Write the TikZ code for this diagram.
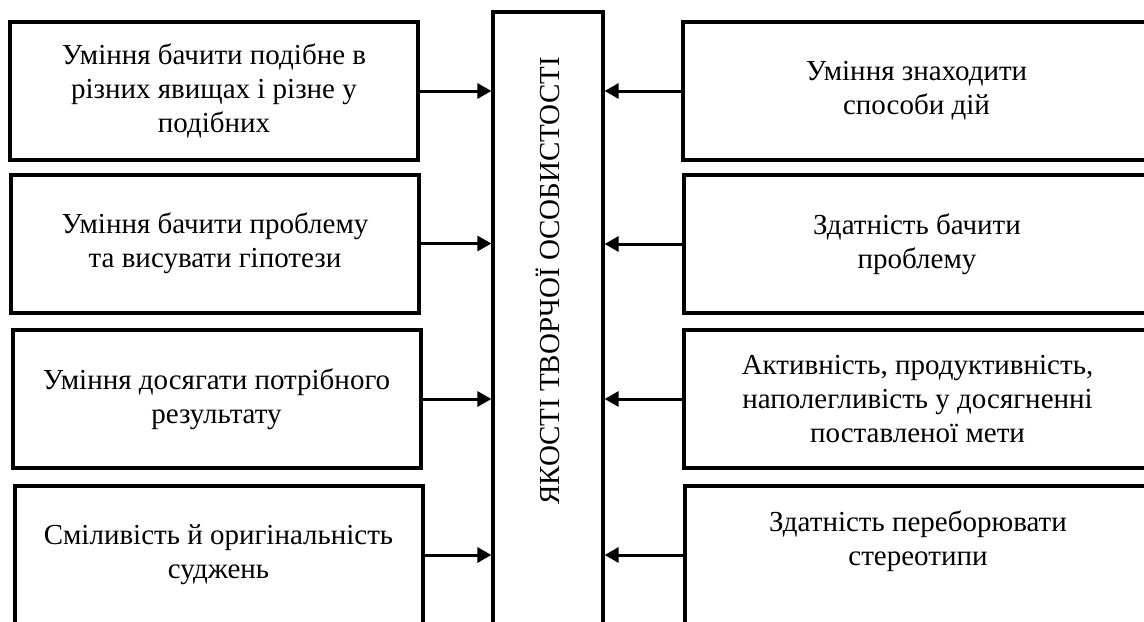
\documentclass[tikz,border=0pt]{standalone}
\usepackage{fontspec}
\setmainfont{Liberation Serif}
\usetikzlibrary{arrows.meta}
\tikzset{
	hop/.style={draw, line width=2pt, minimum width=204pt, minimum height=69pt, align=center, inner sep=0pt},
	hopphai/.style={hop, minimum width=233.5pt},
	mui/.style={-{Triangle[length=7pt,width=7.5pt]}, line width=1.5pt}
}
\begin{document}
\begin{tikzpicture}[x=0.5pt, y=-0.5pt, font=\fontsize{14.5}{17}\selectfont, line join=miter]
	\useasboundingbox (0,0) rectangle (1144,621);
	\clip (0,0) rectangle (1144,621);
	%Cột giữa
	\node[draw, line width=1.6pt, minimum width=55pt, minimum height=314pt, inner sep=0pt] (c) at (548,326) {};
	\node[rotate=90] (tc) at (548,281) {ЯКОСТІ ТВОРЧОЇ ОСОБИСТОСТІ};
	%Bên trái
	\node[hop] (l1) at (214,91) {Уміння бачити подібне в\\ різних явищах і різне у\\ подібних};
	\node[hop] (l2) at (215,243.5) {Уміння бачити проблему\\ та висувати гіпотези};
	\node[hop] (l3) at (216.5,399) {Уміння досягати потрібного\\ результату};
	\node[hop] (l4) at (218.5,555) {Сміливість й оригінальність\\ суджень};
	%Bên phải
	\node[hopphai] (r1) at (916.5,91) {Уміння знаходити\\ способи дій};
	\node[hopphai] (r2) at (917,244) {Здатність бачити\\ проблему};
	\node[hopphai] (r3) at (917.5,399) {Активність, продуктивність,\\ наполегливість у досягненні\\ поставленої мети};
	\node[hopphai] (r4) at (918,555) {Здатність переборювати\\ стереотипи\\ \mbox{}};
	\foreach \i in {1,...,4}{
		\draw[mui] (l\i.east) -- (l\i.east -| c.west);
		\draw[mui] (r\i.west) -- (r\i.west -| c.east);
	}
\end{tikzpicture}
\end{document}
